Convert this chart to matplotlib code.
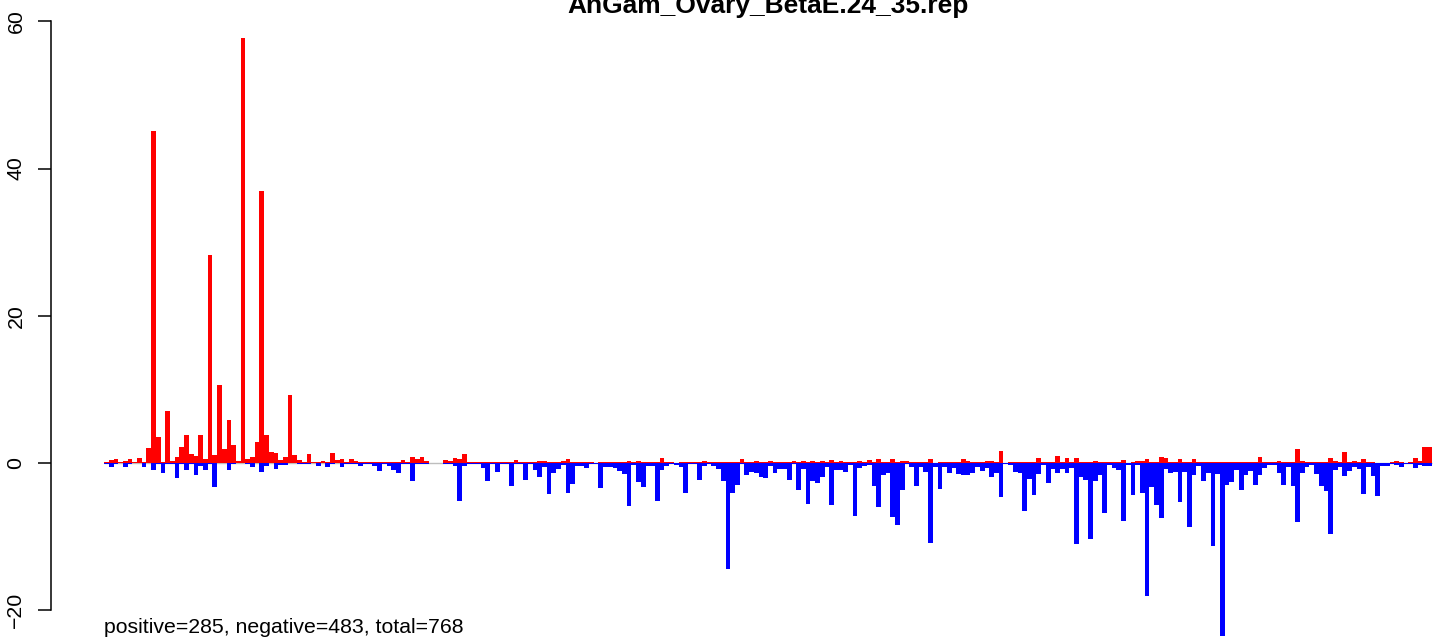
import matplotlib
matplotlib.use("Agg")
import matplotlib.pyplot as plt
import numpy as np

plt.rcParams['font.family'] = ['Liberation Sans', 'DejaVu Sans']

title = "AnGam_Ovary_BetaE.24_35.rep"
n_positive, n_negative, n_total = 285, 483, 768
y_ticks = [-20, 0, 20, 40, 60]

# values above zero (red), one per bar
pos = [
    0.15, 0.4, 0.5, 0.15, 0.3, 0.5, 0.15, 0.7, 0.15, 2.0,
    45.1, 3.5, 0.15, 7.05, 0.3, 0.8, 2.2, 3.8, 1.2, 1.0,
    3.8, 0.5, 28.25, 1.1, 10.6, 1.9, 5.8, 2.4, 0.3, 57.7,
    0.5, 0.8, 2.85, 36.9, 3.8, 1.5, 1.35, 0.4, 0.8, 9.2,
    1.1, 0.4, 0.15, 1.2, 0.1, 0.1, 0.3, 0.1, 1.35, 0.4,
    0.55, 0.1, 0.55, 0.3, 0.1, 0.1, 0.1, 0.1, 0.1, 0.1,
    0.1, 0.1, 0.1, 0.4, 0.1, 0.8, 0.55, 0.8, 0.3, 0,
    0, 0, 0.4, 0.25, 0.7, 0.55, 1.2, 0.1, 0.1, 0.1,
    0.1, 0.1, 0.15, 0.1, 0.1, 0.1, 0.1, 0.4, 0.1, 0.1,
    0.1, 0.1, 0.3, 0.3, 0.1, 0.1, 0.1, 0.3, 0.55, 0.1,
    0.1, 0.1, 0.1, 0.1, 0, 0.1, 0.1, 0.1, 0.1, 0.1,
    0.1, 0.3, 0.1, 0.3, 0.1, 0.1, 0.1, 0.1, 0.7, 0.1,
    0.1, 0, 0.1, 0.1, 0.1, 0.1, 0.1, 0.3, 0.1, 0.1,
    0.1, 0.1, 0.1, 0.1, 0.1, 0.55, 0.1, 0.1, 0.3, 0.1,
    0.1, 0.3, 0.1, 0.1, 0.1, 0.1, 0.3, 0.1, 0.3, 0.1,
    0.3, 0.1, 0.3, 0.1, 0.4, 0.1, 0.3, 0.1, 0.1, 0.1,
    0.3, 0.1, 0.4, 0.1, 0.55, 0.1, 0.1, 0.55, 0.1, 0.3,
    0.3, 0.1, 0.1, 0.1, 0.1, 0.55, 0, 0.1, 0.1, 0.1,
    0.1, 0.1, 0.55, 0.3, 0.1, 0.1, 0.1, 0.3, 0.3, 0.1,
    1.6, 0, 0.1, 0.1, 0.1, 0.1, 0.1, 0.1, 0.7, 0.1,
    0.1, 0.1, 0.95, 0.1, 0.7, 0.1, 0.7, 0.1, 0.1, 0.1,
    0.3, 0.1, 0.1, 0.1, 0.1, 0.1, 0.4, 0, 0.1, 0.3,
    0.3, 0.55, 0.1, 0.1, 0.8, 0.7, 0.1, 0.1, 0.55, 0.1,
    0.1, 0.55, 0.1, 0.1, 0.1, 0.1, 0.1, 0.1, 0.1, 0.1,
    0.1, 0.1, 0.1, 0.1, 0.1, 0.8, 0.1, 0.1, 0.1, 0.3,
    0.1, 0.1, 0.1, 1.9, 0.3, 0.1, 0.1, 0.1, 0.1, 0.1,
    0.7, 0.3, 0.1, 1.5, 0.1, 0.3, 0.1, 0.55, 0.1, 0.1,
    0, 0, 0, 0.1, 0.3, 0.1, 0, 0.1, 0.7, 0.3,
    2.2, 2.2,
]

# values below zero (blue), one per bar
neg = [
    -0.2, -0.5, -0.1, 0, -0.6, -0.1, 0, 0, -0.6, 0,
    -0.9, -0.1, -1.3, -0.1, -0.1, -2.1, -0.1, -0.9, -0.1, -1.6,
    -0.35, -0.9, -0.1, -3.2, 0, 0, -1.0, -0.2, 0, 0,
    -0.1, -0.5, 0, -1.2, -0.35, 0, -0.8, -0.25, -0.25, 0,
    0, -0.1, -0.1, -0.2, 0, -0.4, 0, -0.55, -0.2, 0,
    -0.55, -0.1, -0.1, -0.1, -0.4, -0.1, -0.1, -0.35, -1.1, -0.1,
    -0.4, -0.95, -1.35, -0.2, -0.1, -2.45, -0.1, -0.1, -0.1, 0,
    0, 0, -0.1, -0.2, -0.35, -5.2, -0.35, -0.1, -0.1, -0.2,
    -0.7, -2.45, -0.1, -1.2, -0.1, -0.1, -3.1, -0.1, -0.1, -2.3,
    -0.1, -0.95, -1.9, -0.55, -4.2, -1.35, -0.8, -0.25, -4.1, -2.85,
    -0.4, -0.4, -0.7, -0.2, -0.2, -3.4, -0.55, -0.55, -0.7, -1.1,
    -1.5, -5.85, -0.25, -2.6, -3.25, -0.4, -0.4, -5.15, -0.95, -0.4,
    -0.1, -0.25, -0.55, -4.1, -0.2, -0.2, -2.3, -0.4, -0.2, -0.4,
    -0.8, -2.45, -14.4, -4.1, -3.0, -0.2, -1.6, -1.2, -1.35, -1.9,
    -2.05, -0.4, -1.35, -0.8, -0.8, -2.3, -0.15, -3.65, -0.8, -5.55,
    -2.45, -2.7, -1.9, -0.55, -5.7, -0.95, -0.95, -1.2, -0.25, -7.2,
    -0.7, -0.4, -0.25, -3.1, -6.0, -1.6, -1.35, -7.35, -8.4, -3.65,
    -0.15, -0.55, -3.1, -0.55, -1.2, -10.9, -0.55, -3.5, -0.55, -1.35,
    -0.7, -1.5, -1.6, -1.6, -1.35, -0.55, -1.1, -0.7, -1.9, -1.35,
    -4.6, -0.15, -0.25, -1.2, -1.35, -6.5, -2.2, -4.35, -1.5, -0.25,
    -2.7, -0.8, -1.35, -0.8, -1.35, -0.7, -11.0, -1.9, -2.3, -10.3,
    -2.45, -1.6, -6.8, -0.25, -0.7, -0.95, -7.9, -0.25, -4.35, -0.25,
    -4.1, -18.05, -3.25, -5.7, -7.5, -0.8, -1.35, -1.2, -5.3, -1.2,
    -8.7, -1.6, -0.4, -2.45, -1.35, -11.3, -1.5, -23.5, -3.0, -2.6,
    -0.95, -3.65, -1.6, -1.1, -3.0, -1.6, -0.7, -0.25, -0.25, -1.35,
    -3.0, -0.55, -3.1, -8.0, -1.35, -0.55, -0.25, -1.5, -3.1, -3.8,
    -9.65, -0.95, -0.55, -1.75, -1.1, -0.55, -0.8, -4.2, -0.55, -1.75,
    -4.5, -0.4, -0.4, -0.1, -0.25, -0.55, -0.1, -0.1, -0.7, -0.25,
    -0.4, -0.4,
]


def main():
    n = len(pos)
    x = np.arange(n)

    fig = plt.figure(figsize=(14.44, 6.38), dpi=100)
    # plot region runs past the right edge, like the cropped original
    ax = fig.add_axes([51 / 1444, 0, 1434 / 1444, 1])

    # grey zero line only under the bars
    ax.hlines(0, 0, n, color='#bebebe', lw=1.0, zorder=1)
    ax.bar(x, pos, width=1.0, align='edge', color='#ff0000',
           linewidth=0, antialiased=False, zorder=2)
    ax.bar(x, neg, width=1.0, align='edge', color='#0000ff',
           linewidth=0, antialiased=False, zorder=2)

    ax.set_xlim(-0.04 * n, 1.04 * n)
    ax.set_ylim(-23.78, 62.9)

    for side in ['top', 'right', 'bottom']:
        ax.spines[side].set_visible(False)
    ax.spines['left'].set_bounds(-20, 60)
    ax.spines['left'].set_linewidth(1.1)
    ax.set_xticks([])
    ax.set_yticks(y_ticks)
    ax.tick_params(axis='y', length=9.4, width=1.1, labelsize=15.3,
                   pad=9, labelrotation=90)
    for lab in ax.get_yticklabels():
        lab.set_va('center')

    fig.text(768 / 1444, 1 - 12.7 / 638, title, ha='center', va='baseline',
             fontsize=19, fontweight='bold')
    fig.text(104 / 1444, 1 - 633 / 638,
             f"positive={n_positive}, negative={n_negative}, total={n_total}",
             ha='left', va='baseline', fontsize=15.3)

    fig.savefig('out.png', dpi=100)


if __name__ == "__main__":
    main()
